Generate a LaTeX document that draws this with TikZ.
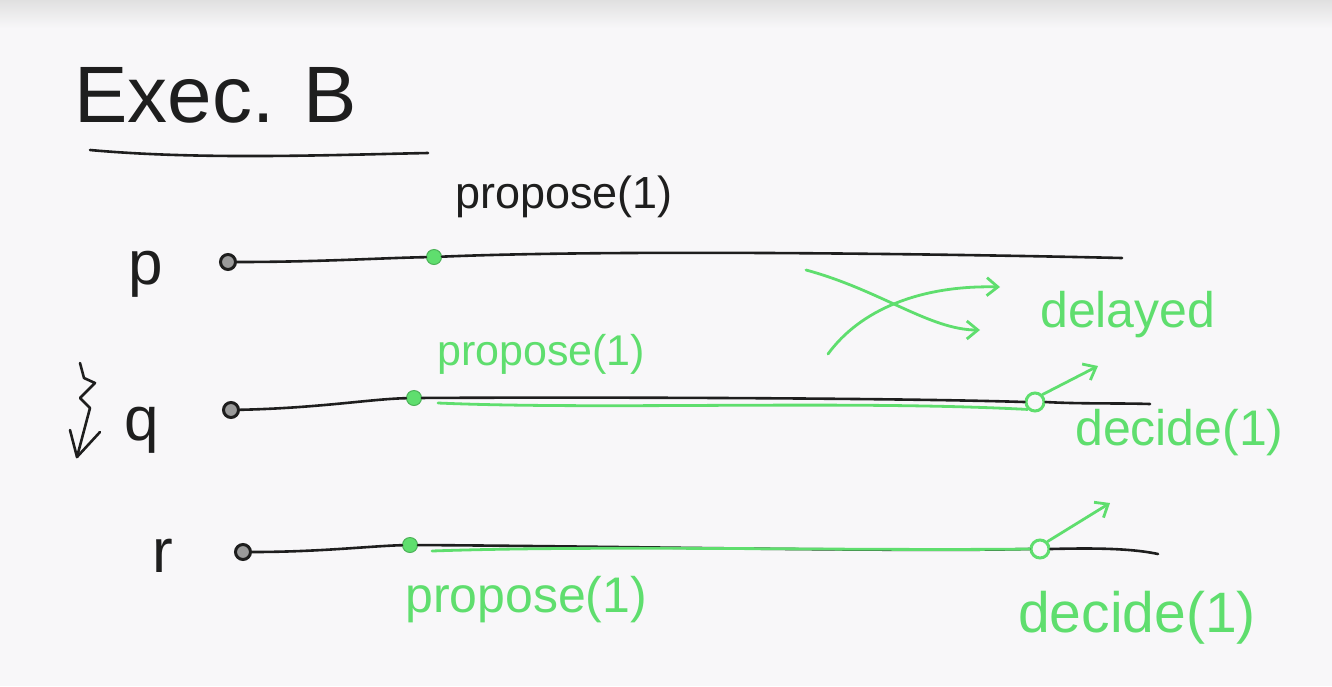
\documentclass[tikz,border=0pt]{standalone}
\usepackage{fontspec}
\setmainfont{Liberation Sans}
\usetikzlibrary{arrows.meta}
\definecolor{bg}{RGB}{248,247,249}
\definecolor{pen}{RGB}{30,30,30}
\definecolor{gpen}{RGB}{95,222,110}
\tikzset{
  proc/.style={draw=pen, line width=2.6pt, line cap=round, line join=round},
  gline/.style={draw=gpen, line width=2.8pt, line cap=round, line join=round},
  garrow/.style={gline, -{Straight Barb[length=11pt,width=18pt,line width=2.8pt]}},
  startc/.style={circle, draw=pen, line width=3pt, fill=pen!45, minimum size=15pt, inner sep=0pt},
  gdot/.style={circle, fill=gpen, draw=gpen!80!black, line width=1pt, minimum size=15pt, inner sep=0pt},
  gring/.style={circle, draw=gpen, line width=3pt, minimum size=18pt, inner sep=0pt},
  hand/.style={inner sep=0pt, anchor=base west},
  blk/.style={hand, text=pen},
  grn/.style={hand, text=gpen},
}
\begin{document}
\begin{tikzpicture}[x=1pt,y=-1pt]
\useasboundingbox (0,0) rectangle (1332,686);
\fill[bg] (0,0) rectangle (1332,686);
\shade[top color=black!12, bottom color=bg] (0,0) rectangle (1332,28);

% title
\node[blk, font=\fontsize{80}{82}\selectfont] (title) at (74,122) {Exec. B};
\coordinate (ul1) at (90,150);
\coordinate (ul2) at (428,153);
\draw[proc] (ul1) .. controls (200,160) and (330,155) .. (ul2);

% process labels
\node[blk, font=\fontsize{62}{64}\selectfont] (lp) at (128,284) {p};
\node[blk, font=\fontsize{62}{64}\selectfont] (lq) at (124,440) {q};
\node[blk, font=\fontsize{62}{64}\selectfont] (lr) at (152,572) {r};

% squiggle arrow near q
\coordinate (sq1) at (80,363);
\coordinate (sq2) at (77,457);
\draw[proc] (sq1) -- (84,378) -- (95,383) -- (80,398) -- (90,408) -- (sq2);
\draw[proc] (70,430) -- (sq2) -- (100,432);

% start circles
\node[startc] (sp) at (228,262) {};
\node[startc] (sq) at (231,410) {};
\node[startc] (sr) at (243,552) {};

% green propose dots
\node[gdot] (dp) at (434,257) {};
\node[gdot] (dq) at (414,398) {};
\node[gdot] (dr) at (410,545) {};

% line ends
\coordinate (ep) at (1122,258);
\coordinate (eq) at (1150,404);
\coordinate (er) at (1158,554);

% decide rings
\node[gring] (rq) at (1035,402) {};
\node[gring] (rr) at (1040,549) {};

% black process lines
\draw[proc] (sp) .. controls (320,262) and (380,258) .. (dp);
\draw[proc] (dp) .. controls (600,250) and (900,253) .. (ep);
\draw[proc] (sq) .. controls (320,408) and (370,399) .. (dq);
\draw[proc] (dq) .. controls (600,397) and (900,398) .. (rq.west);
\draw[proc] (rq.east) .. controls (1080,404) and (1120,403) .. (eq);
\draw[proc] (sr) .. controls (320,552) and (370,546) .. (dr);
\draw[proc] (dr) .. controls (600,546) and (900,552) .. (rr.west);
\draw[proc] (rr.east) .. controls (1090,548) and (1130,548) .. (er);

% green overlays
\coordinate (gq0) at (438,403);
\coordinate (gr0) at (432,551);
\draw[gline] (gq0) .. controls (600,410) and (850,400) .. (rq.south west);
\draw[gline] (gr0) .. controls (600,545) and (850,551) .. (rr.west);

% decide arrows
\coordinate (aq) at (1098,366);
\coordinate (ar) at (1110,503);
\draw[garrow] (rq.north east) -- (aq);
\draw[garrow] (rr.north east) -- (ar);

% crossing delayed arrows
\coordinate (c1s) at (806,270);
\coordinate (c1e) at (980,330);
\coordinate (c2s) at (828,354);
\coordinate (c2e) at (1000,287);
\draw[garrow] (c1s) .. controls (880,290) and (930,330) .. (c1e);
\draw[garrow] (c2s) .. controls (860,310) and (920,285) .. (c2e);

% labels
\node[blk, font=\fontsize{45}{47}\selectfont] (pp) at (455,208) {propose(1)};
\node[grn, font=\fontsize{43}{45}\selectfont] (pq) at (437,365) {propose(1)};
\node[grn, font=\fontsize{50}{52}\selectfont] (pr) at (405,612) {propose(1)};
\node[grn, font=\fontsize{50}{52}\selectfont] (dl) at (1040,327) {delayed};
\node[grn, font=\fontsize{50}{52}\selectfont] (dq1) at (1075,445) {decide(1)};
\node[grn, font=\fontsize{57}{59}\selectfont] (dr1) at (1018,632) {decide(1)};
\end{tikzpicture}
\end{document}
